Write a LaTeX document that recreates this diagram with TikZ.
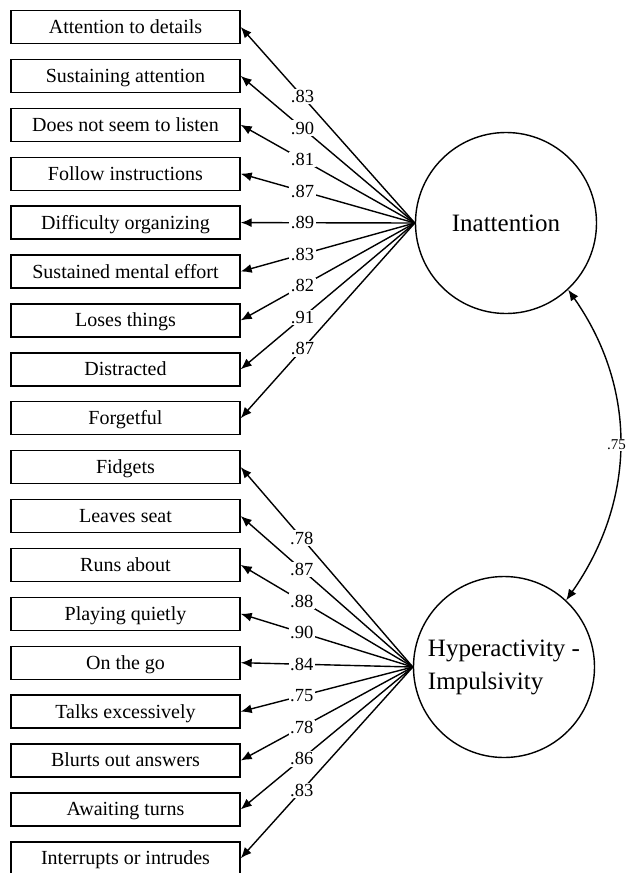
\documentclass[tikz,border=0pt]{standalone}
\usepackage{fontspec}
\setmainfont{Liberation Serif}
\usetikzlibrary{arrows.meta}
\tikzset{
  item/.style={draw,line width=1.4pt,minimum width=229pt,minimum height=33pt,inner sep=0pt,text depth=.1em,font=\fontsize{20}{22}\selectfont},
  factor/.style={circle,draw,line width=1.4pt,minimum size=181pt,inner sep=0pt,font=\fontsize{25}{33}\selectfont},
  load/.style={line width=1.4pt,-{Latex[length=11pt,width=9pt]}},
  coef/.style={fill=white,inner sep=1.5pt,font=\fontsize{18.5}{19}\selectfont}
}
\begin{document}
\begin{tikzpicture}[x=1pt,y=-1pt]
        \clip (0,0) rectangle (639,873);
        \node[factor](ina)at(506,223){Inattention};
        \node[factor,align=left](hyp)at(504,667){Hyperactivity -\\Impulsivity};
        \foreach \i/\txt in {0/Attention to details,1/Sustaining attention,2/Does not seem to listen,3/Follow instructions,4/Difficulty organizing,5/Sustained mental effort,6/Loses things,7/Distracted,8/Forgetful,9/Fidgets,10/Leaves seat,11/Runs about,12/Playing quietly,13/On the go,14/Talks excessively,15/Blurts out answers,16/Awaiting turns,17/Interrupts or intrudes}
            \node[item](b\i)at(125.5,27+48.9*\i){\txt};
        \foreach \i/\v in {0/.83,1/.90,2/.81,3/.87,4/.89,5/.83,6/.82,7/.91,8/.87}
            \draw[load](ina.west)--(b\i.east) node[coef,pos=.645]{\v};
        \foreach \i/\v in {9/.78,10/.87,11/.88,12/.90,13/.84,14/.75,15/.78,16/.86,17/.83}
            \draw[load](hyp.west)--(b\i.east) node[coef,pos=.645]{\v};
        \draw[line width=1.4pt,{Latex[length=11pt,width=9pt]}-{Latex[length=11pt,width=9pt]}](ina.-47) to[out=-55,in=55] node[fill=white,inner sep=1pt,xshift=-3pt,font=\fontsize{15}{16}\selectfont]{.75} (hyp.47);
    \end{tikzpicture}
\end{document}
